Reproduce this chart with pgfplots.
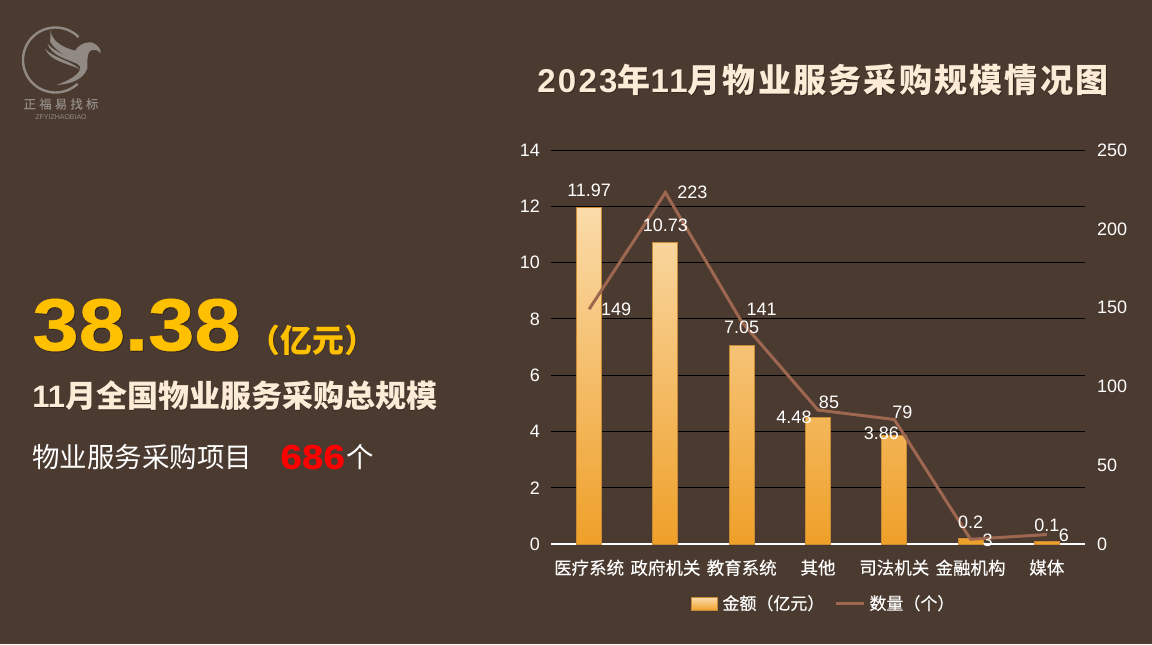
\documentclass[border=0pt]{standalone}
\usepackage{fontspec}
\usepackage{pgfplots}
\usepackage{pgfplotstable}
\pgfplotsset{compat=1.18}
\usetikzlibrary{calc}
\setmainfont{Liberation Sans}
\newfontfamily\cjk{Noto Sans CJK SC}
\newfontfamily\cjkm[FakeBold=0.3]{Noto Sans CJK SC}
\newfontfamily\cjkt[LetterSpace=6.8]{Noto Sans CJK SC}
\newfontfamily\sanst[LetterSpace=6.8]{Liberation Sans}
\newfontfamily\wide[BoldFeatures={FakeStretch=1.125,FakeBold=0.6}]{Liberation Sans}
\definecolor{bg}{HTML}{4B3A30}
\definecolor{barTop}{HTML}{FADBAA}
\definecolor{barBot}{HTML}{EFA029}
\definecolor{barEdge}{HTML}{C98A35}
\definecolor{lineC}{HTML}{9E6750}
\definecolor{cream}{HTML}{FCEBD6}
\definecolor{gold}{HTML}{FFC000}
\definecolor{logoC}{HTML}{918A84}
\definecolor{shade}{HTML}{2C211B}

\pgfplotstableread{
x y dx dy lab
0 11.97 0 8.5 11.97
1 10.73 0 8.5 10.73
2 7.05 0 9 7.05
3 4.48 -12 0.5 4.48
4 3.86 -6.5 1 3.86
5 0.2 0 8 0.2
6 0.1 0 8 0.1
}\amounts
\pgfplotstableread{
x y dx dy lab
0 149 13.5 0 149
1 223 13.5 0 223
2 141 10 6 141
3 85 5.5 4 85
4 79 4 3.5 79
5 3 8.5 -0.5 3
6 6 8.5 -0.5 6
}\counts

\newcommand{\shtext}[5][0.8]{% size, color, position, text
  \node[anchor=west,inner sep=0,text=shade,opacity=0.7,font=#2] at ($(#4)+(#1,#1)$) {#5};
  \node[anchor=west,inner sep=0,text=#3,font=#2] at (#4) {#5};
}

\pgfplotsset{
  valuelabels/.style={
    point meta=explicit symbolic,
    nodes near coords,
    visualization depends on={\thisrow{dx} \as \dxv},
    visualization depends on={\thisrow{dy} \as \dyv},
    every node near coord/.append style={anchor=center,inner sep=0,text=white,
      font=\fontsize{9}{10}\selectfont,xshift=\dxv pt,yshift=\dyv pt},
  },
  frame/.style={
    at={(275.5pt,-272pt)}, anchor=south west,
    scale only axis, width=267pt, height=197pt,
    xmin=-0.5, xmax=6.5, clip=false,
  },
}

\begin{document}
\begin{tikzpicture}
\fill[bg] (0,0) rectangle (576pt,-322pt);
\useasboundingbox (0,0) rectangle (576pt,-322pt);

\begin{scope}[x=0.5pt,y=-0.5pt]
  % logo
  \draw[logoC,line width=1.2pt] (55.5,60) ++(-45:32.5) arc[start angle=-45,end angle=-313,radius=32.5];
  \begin{scope}[x=0.1667pt,y=-0.1667pt]
    \fill[logoC] (150,88) .. controls (155,120) and (180,140) .. (225,152)
      .. controls (235,135) and (255,125) .. (275,127)
      .. controls (295,135) and (303,148) .. (302,160)
      .. controls (295,150) and (285,148) .. (275,150)
      .. controls (262,155) and (262,170) .. (262,205)
      .. controls (250,240) and (210,252) .. (170,255)
      .. controls (210,240) and (245,220) .. (240,200)
      .. controls (220,175) and (170,160) .. (150,125)
      .. controls (152,115) and (152,100) .. (150,88) -- cycle;
    \fill[logoC] (135,145) .. controls (160,175) and (210,180) .. (240,208)
      .. controls (205,190) and (150,185) .. (135,145) -- cycle;
    \fill[logoC] (142,130) .. controls (165,160) and (210,165) .. (240,195)
      .. controls (205,178) and (155,170) .. (142,130) -- cycle;
  \end{scope}
  \node[text=logoC,font=\cjkm\fontsize{6.2}{7}\selectfont] at (61,104) {正\hspace{1.6pt}福\hspace{1.6pt}易\hspace{1.6pt}找\hspace{1.6pt}标};
  \node[text=logoC,font=\fontsize{3.5}{4}\selectfont] at (61,117) {ZFYIZHAOBIAO};

  % title
  \shtext{\fontsize{16.5}{18}\selectfont\bfseries}{cream}{537,80}{{\sanst 2023}{\cjkt 年}{\sanst 11}{\cjkt 月物业服务采购规模情况图}}

  % left block
  \shtext[1]{\fontsize{37}{44}\selectfont\wide\bfseries}{gold}{32,325}{38.38}
  \shtext{\fontsize{16}{18}\selectfont\cjk\bfseries}{gold}{248,340}{（亿元）}
  \shtext{\fontsize{15.5}{18}\selectfont\bfseries}{cream}{32,396}{11{\cjk 月全国物业服务采购总规模}}
  \node[anchor=west,inner sep=0,text=white,font=\fontsize{13.75}{16}\selectfont\cjk] at (32,457) {物业服务采购项目};
  \node[anchor=west,inner sep=0,text=red,font=\fontsize{17.2}{20}\selectfont\wide\bfseries] at (280,457) {686};
  \node[anchor=west,inner sep=0,text=white,font=\fontsize{13.75}{16}\selectfont\cjk] at (346,457) {个};
\end{scope}

% bars
\begin{axis}[
  frame, ymin=0, ymax=14,
  ytick distance=2,
  xtick=data,
  xticklabels={医疗系统,政府机关,教育系统,其他,司法机关,金融机构,媒体},
  x tick label style={font=\cjkm\fontsize{8.75}{10}\selectfont, text=white},
  y tick label style={font=\fontsize{9}{10}\selectfont, text=white, xshift=-2pt, /pgf/number format/assume math mode=true},
  ymajorgrids, grid style={black,line width=0.5pt},
  axis x line*=bottom, axis y line*=left,
  x axis line style={white,line width=0.6pt,-},
  y axis line style={draw=none,-},
  tick style={draw=none},
  ybar, bar width=12.5pt,
]
\addplot[draw=barEdge,line width=0.5pt,top color=barTop,bottom color=barBot]
  table[x=x,y=y] {\amounts};
\end{axis}

% line on secondary axis
\begin{axis}[
  frame, ymin=0, ymax=250,
  ytick distance=50,
  axis x line=none, axis y line*=right,
  y axis line style={draw=none,-},
  tick style={draw=none},
  y tick label style={font=\fontsize{9}{10}\selectfont, text=white, xshift=2.5pt, /pgf/number format/assume math mode=true},
  legend columns=2,
  legend style={at={(0.513,-0.152)},anchor=center,draw=none,fill=none,text=white,
    font=\cjkm\fontsize{8.5}{10}\selectfont,
    /tikz/every even column/.append style={column sep=3pt}},
]
\addlegendimage{legend image code/.code={\draw[draw=barEdge,line width=0.5pt,top color=barTop,bottom color=barBot] (-1pt,-3.2pt) rectangle (12pt,3.2pt);}}
\addlegendentry{金额（亿元）}
\addplot[lineC,line width=1.5pt,valuelabels,
  legend image code/.code={\draw[lineC,line width=1.5pt] (-1pt,0pt) -- (13pt,0pt);},
] table[x=x,y=y,meta=lab] {\counts};
\addlegendentry{数量（个）}
\end{axis}

% bar value labels sit on top of the line
\begin{axis}[frame, ymin=0, ymax=14, hide axis]
\addplot[draw=none,valuelabels] table[x=x,y=y,meta=lab] {\amounts};
\end{axis}
\end{tikzpicture}
\end{document}
